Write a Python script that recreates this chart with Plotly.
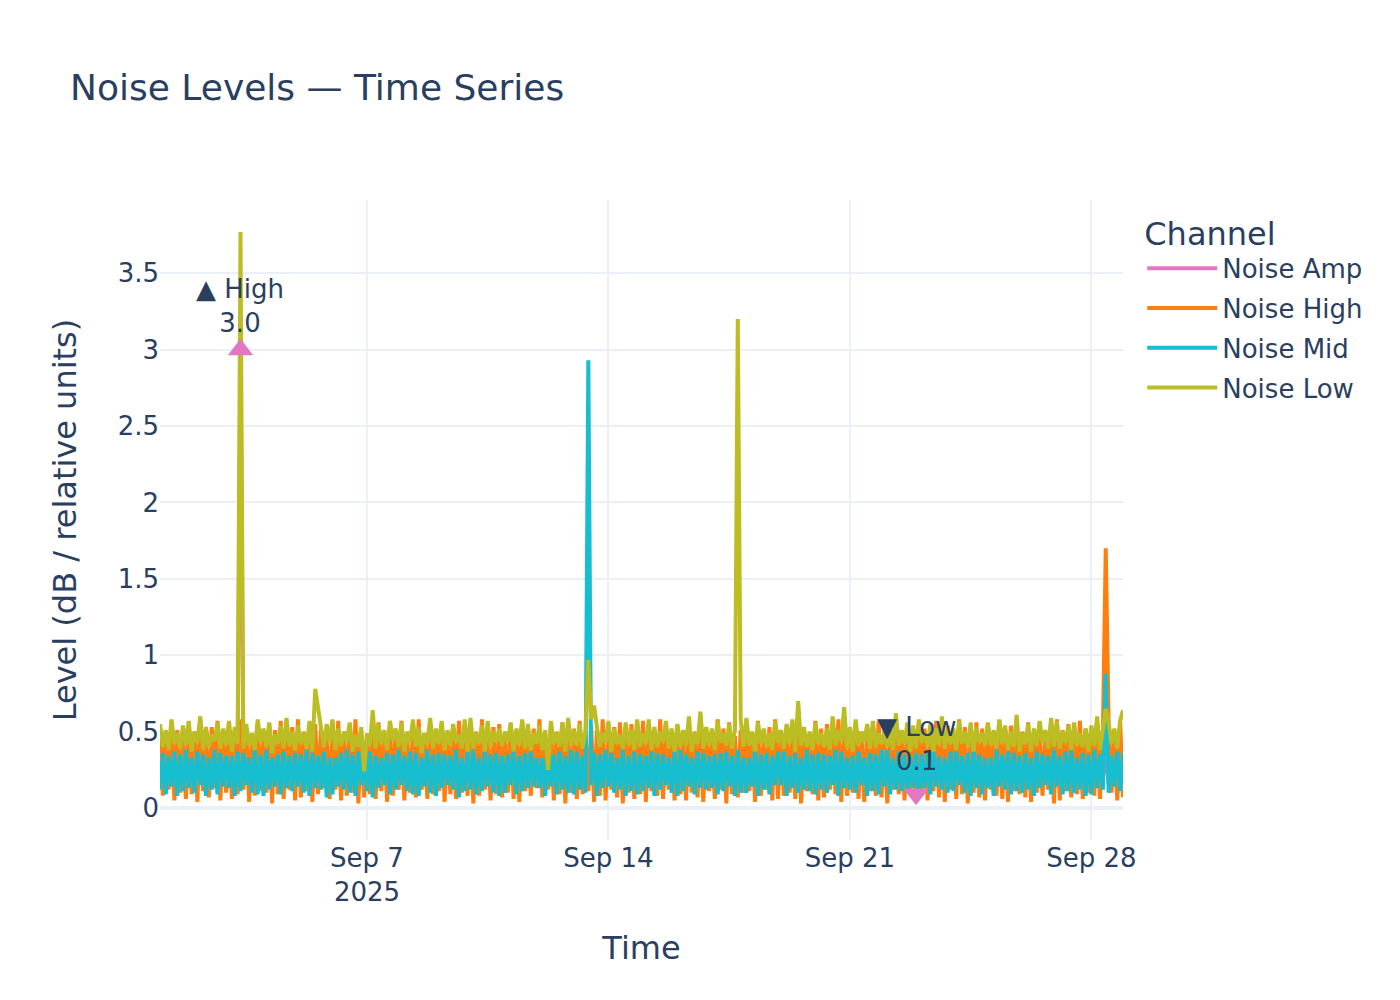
import plotly.graph_objects as go
import pandas as pd

# 2-hourly timestamps, Sep 1 00:00 .. Sep 28 22:00
start = "2025-09-01 00:00"
n_points = 336
times = pd.date_range(start, periods=n_points, freq="2h")

noise_amp = [
    .20,.31,.17,.33,.21,.29,.18,.32,.22,.30,.16,.34,
    .18,.30,.22,.34,.16,.31,.20,.28,.19,.33,.21,.29,
    .21,.33,.19,.30,3.0,.32,.17,.29,.20,.34,.18,.31,
    .17,.29,.21,.32,.19,.34,.16,.30,.22,.31,.20,.33,
    .22,.34,.18,.31,.20,.28,.21,.33,.17,.32,.19,.30,
    .19,.32,.16,.29,.22,.33,.18,.31,.21,.30,.17,.34,
    .16,.30,.20,.33,.18,.32,.22,.29,.19,.34,.21,.31,
    .21,.33,.17,.30,.19,.31,.20,.34,.16,.29,.22,.32,
    .18,.29,.22,.31,.17,.34,.19,.32,.21,.30,.16,.33,
    .20,.34,.16,.32,.21,.30,.17,.33,.18,.31,.22,.29,
    .22,.31,.19,.34,.16,.32,.21,.30,.20,.33,.18,.29,
    .17,.32,.21,.29,.19,.33,.16,.31,.22,.41,.20,.34,
    .19,.30,.18,.33,.22,.31,.20,.29,.17,.34,.21,.32,
    .21,.34,.16,.31,.20,.32,.19,.30,.18,.33,.17,.29,
    .16,.29,.22,.32,.18,.30,.21,.34,.19,.31,.20,.33,
    .20,.33,.17,.30,.21,.34,.18,.29,.16,.32,.22,.31,
    .18,.31,.20,.29,.17,.33,.22,.32,.21,.30,.19,.34,
    .22,.30,.19,.34,.20,.29,.17,.33,.16,.31,.18,.32,
    .17,.34,.21,.32,.16,.31,.20,.30,.22,.41,.19,.33,
    .19,.32,.18,.30,.22,.33,.16,.34,.20,.29,.21,.31,
    .21,.29,.20,.33,.19,.32,.22,.31,.17,.34,.16,.30,
    .16,.33,.22,.31,.18,.30,.19,.32,.21,.29,.20,.09,
    .20,.31,.17,.34,.21,.29,.18,.33,.22,.30,.19,.32,
    .18,.34,.21,.29,.16,.33,.20,.31,.19,.32,.17,.30,
    .22,.30,.19,.32,.20,.31,.17,.34,.18,.29,.21,.41,
    .17,.32,.16,.33,.22,.30,.21,.29,.20,.34,.18,.31,
    .21,.29,.20,.31,.19,.34,.22,.32,.16,.30,.17,.33,
    .19,.33,.18,.30,.21,.32,.16,.34,.20,.31,.22,.29,
]

noise_high = [
    .55,.08,.49,.12,.57,.05,.51,.10,.47,.06,.56,.09,
    .50,.04,.58,.11,.46,.07,.53,.13,.57,.05,.48,.10,
    .54,.06,.47,.09,.58,.12,.52,.04,.49,.08,.56,.11,
    .47,.10,.55,.03,.51,.09,.57,.06,.48,.12,.53,.05,
    .58,.07,.50,.11,.46,.04,.55,.09,.52,.13,.47,.06,
    .53,.12,.57,.05,.49,.08,.54,.10,.58,.03,.50,.07,
    .48,.09,.52,.06,.56,.11,.47,.04,.55,.08,.51,.12,
    .57,.05,.46,.10,.53,.07,.58,.12,.49,.06,.54,.09,
    .51,.11,.55,.04,.48,.09,.52,.06,.57,.10,.46,.08,
    .56,.03,.50,.08,.58,.12,.47,.05,.53,.09,.55,.07,
    .49,.10,.54,.06,.51,.04,.57,.11,.46,.08,.52,.13,
    .58,.07,.48,.12,.55,.05,.50,.09,.56,.03,.47,.10,
    .52,.06,.57,.09,.49,.11,.54,.04,.51,.08,.58,.05,
    .46,.12,.53,.07,.56,.03,.48,.10,.55,.06,.50,.09,
    .57,.04,.51,.11,.47,.08,.58,.06,.52,.12,.49,.05,
    .54,.09,.46,.05,.55,.10,.50,.07,.57,.04,.53,.11,
    .48,.06,.58,.12,.52,.03,.56,.09,.47,.07,.51,.10,
    .55,.11,.49,.04,.57,.08,.46,.12,.53,.05,.58,.06,
    .50,.08,.54,.10,.48,.06,.56,.03,.52,.11,.47,.09,
    .57,.05,.52,.07,.55,.12,.49,.09,.58,.04,.51,.08,
    .47,.10,.56,.06,.50,.04,.54,.11,.46,.08,.57,.07,
    .53,.03,.48,.12,.58,.09,.51,.05,.55,.10,.49,.06,
    .56,.08,.52,.05,.47,.11,.57,.07,.50,.04,.54,.12,
    .49,.06,.58,.09,.53,.03,.48,.10,.56,.07,.52,.05,
    .55,.12,.47,.08,.57,.06,.51,.04,.54,.11,.58,.09,
    .50,.07,.56,.04,.49,.10,.53,.08,.46,.12,.55,.03,
    .58,.05,.51,.11,.55,.07,.47,.09,.57,.06,.52,.10,
    .48,.08,.54,.06,.50,1.70,.56,.10,.49,.05,.57,.07,
]

noise_mid = [
    .12,.36,.09,.34,.14,.37,.08,.35,.11,.38,.13,.33,
    .10,.37,.15,.35,.08,.33,.12,.38,.09,.36,.14,.34,
    .13,.34,.08,.37,.11,.36,.15,.33,.10,.38,.09,.35,
    .08,.38,.12,.33,.14,.35,.09,.37,.13,.34,.11,.36,
    .14,.35,.10,.38,.08,.36,.13,.34,.12,.37,.07,.33,
    .09,.33,.14,.36,.12,.38,.10,.35,.08,.37,.15,.34,
    .11,.37,.07,.34,.13,.33,.15,.36,.09,.35,.12,.38,
    .15,.34,.11,.37,.09,.36,.08,.33,.14,.38,.10,.35,
    .08,.36,.13,.35,.15,.34,.12,.38,.07,.33,.11,.37,
    .12,.38,.09,.33,.11,.37,.14,.35,.10,.36,.08,.34,
    .10,.35,.15,.38,.09,.34,.11,.36,.13,.37,.14,.33,
    .13,.33,.08,.36,.14,.35,.09,.37,.12,.34,.10,.38,
    .09,.37,.12,.34,.10,2.93,.15,.36,.08,.35,.13,.38,
    .14,.36,.10,.33,.12,.38,.08,.34,.11,.37,.09,.35,
    .11,.34,.13,.37,.08,.36,.12,.35,.15,.33,.10,.38,
    .08,.38,.11,.35,.14,.33,.09,.37,.13,.36,.12,.34,
    .13,.35,.09,.36,.11,.37,.14,.34,.08,.38,.10,.33,
    .10,.33,.14,.38,.08,.35,.12,.36,.09,.34,.15,.37,
    .15,.37,.08,.34,.13,.36,.10,.33,.12,.38,.11,.35,
    .09,.36,.12,.35,.10,.34,.15,.38,.08,.37,.13,.33,
    .12,.34,.10,.37,.15,.33,.08,.36,.11,.35,.09,.38,
    .14,.38,.09,.33,.12,.37,.11,.35,.10,.34,.13,.36,
    .08,.35,.13,.36,.09,.38,.14,.34,.12,.33,.10,.37,
    .11,.37,.15,.34,.10,.36,.08,.38,.13,.35,.09,.33,
    .13,.33,.08,.38,.14,.35,.12,.37,.09,.36,.11,.34,
    .10,.36,.12,.33,.08,.37,.13,.35,.15,.34,.09,.38,
    .14,.34,.09,.37,.11,.38,.10,.33,.12,.36,.08,.35,
    .09,.38,.13,.35,.12,.88,.10,.34,.14,.37,.11,.36,
]

noise_low = [
    .55,.40,.51,.38,.58,.42,.49,.39,.54,.41,.57,.37,
    .50,.43,.60,.38,.53,.40,.48,.44,.56,.39,.52,.41,
    .57,.37,.53,.42,3.77,.39,.55,.41,.49,.38,.58,.43,
    .52,.40,.56,.36,.48,.42,.54,.39,.59,.41,.50,.38,
    .54,.42,.49,.39,.57,.37,.78,.66,.51,.40,.55,.43,
    .58,.38,.52,.41,.50,.43,.56,.37,.48,.40,.53,.24,
    .49,.41,.64,.39,.55,.42,.51,.38,.57,.44,.52,.40,
    .56,.37,.50,.43,.58,.40,.53,.36,.49,.42,.59,.39,
    .52,.42,.57,.38,.51,.41,.55,.43,.48,.39,.58,.37,
    .59,.39,.49,.42,.54,.37,.57,.40,.50,.43,.52,.41,
    .50,.43,.56,.37,.52,.41,.58,.39,.55,.38,.49,.42,
    .54,.38,.51,.25,.57,.42,.49,.40,.56,.37,.59,.41,
    .51,.41,.55,.39,.50,.97,.58,.67,.53,.40,.49,.43,
    .57,.37,.52,.42,.48,.39,.56,.41,.51,.38,.58,.40,
    .49,.42,.58,.38,.53,.40,.50,.43,.57,.39,.52,.37,
    .55,.40,.51,.41,.60,.37,.49,.42,.63,.39,.53,.41,
    .52,.38,.57,.43,.49,.41,.55,.39,.51,3.20,.58,.40,
    .59,.41,.50,.37,.56,.42,.52,.40,.49,.38,.57,.43,
    .51,.39,.55,.42,.58,.37,.70,.41,.53,.40,.50,.38,
    .56,.42,.49,.40,.52,.38,.60,.41,.51,.43,.66,.39,
    .53,.37,.58,.41,.50,.43,.55,.39,.57,.40,.49,.42,
    .50,.40,.52,.38,.62,.41,.51,.42,.56,.37,.54,.39,
    .58,.43,.49,.40,.55,.37,.52,.41,.60,.39,.51,.42,
    .52,.38,.57,.42,.50,.40,.56,.37,.53,.43,.49,.41,
    .56,.41,.51,.39,.58,.42,.54,.38,.50,.40,.61,.37,
    .49,.42,.55,.37,.52,.41,.57,.43,.51,.39,.59,.40,
    .57,.39,.50,.43,.54,.38,.56,.41,.49,.40,.52,.37,
    .54,.41,.60,.38,.51,.65,.56,.42,.52,.39,.57,.64,
]

series_names = ["Noise Amp", "Noise High", "Noise Mid", "Noise Low"]
series_values = [noise_amp, noise_high, noise_mid, noise_low]
colors = ["#e377c2", "#ff7f0e", "#17becf", "#bcbd22"]

FONT = "DejaVu Sans"
TXT = "#2a3f5f"

fig = go.Figure()
for name, vals, col in zip(series_names, series_values, colors):
    fig.add_trace(go.Scatter(x=times, y=vals, mode="lines", name=name,
                             legendgroup=name,
                             line=dict(color=col, width=4)))

# extreme markers on Noise Amp
i_max = max(range(n_points), key=lambda i: noise_amp[i])
i_min = min(range(n_points), key=lambda i: noise_amp[i])
fig.add_trace(go.Scatter(x=[times[i_max]], y=[noise_amp[i_max]], mode="markers",
                         marker=dict(symbol="triangle-up", size=22, color=colors[0]),
                         showlegend=False))
fig.add_trace(go.Scatter(x=[times[i_min]], y=[noise_amp[i_min]], mode="markers",
                         marker=dict(symbol="triangle-down", size=22, color=colors[0]),
                         showlegend=False))
fig.add_annotation(x=times[i_max], y=noise_amp[i_max],
                   text=f"▲ High<br>{noise_amp[i_max]:.1f}", showarrow=False,
                   yanchor="bottom", yshift=10, font=dict(size=26, color=TXT, family=FONT))
fig.add_annotation(x=times[i_min], y=noise_amp[i_min],
                   text=f"▼ Low<br>{noise_amp[i_min]:.1f}", showarrow=False,
                   yanchor="bottom", yshift=16, font=dict(size=26, color=TXT, family=FONT))

fig.update_layout(
    template="plotly_white",
    width=1400, height=1000,
    font=dict(family=FONT, size=26, color=TXT),
    title=dict(text="Noise Levels — Time Series", font=dict(size=36), x=0.05),
    margin=dict(l=160, r=277, t=200, b=160),
    legend=dict(title=dict(text="Channel", font=dict(size=32)), font=dict(size=26),
                tracegroupgap=3, itemwidth=70, y=0.995),
    xaxis=dict(title=dict(text="Time", font=dict(size=32), standoff=30), gridwidth=2,
               tickfont=dict(size=26), dtick=7 * 24 * 3600 * 1000, tick0="2025-09-07"),
    yaxis=dict(title=dict(text="Level (dB / relative units)", font=dict(size=32), standoff=31),
               gridwidth=2, zerolinewidth=4, tickfont=dict(size=26)),
)

fig.write_html("out.html")
